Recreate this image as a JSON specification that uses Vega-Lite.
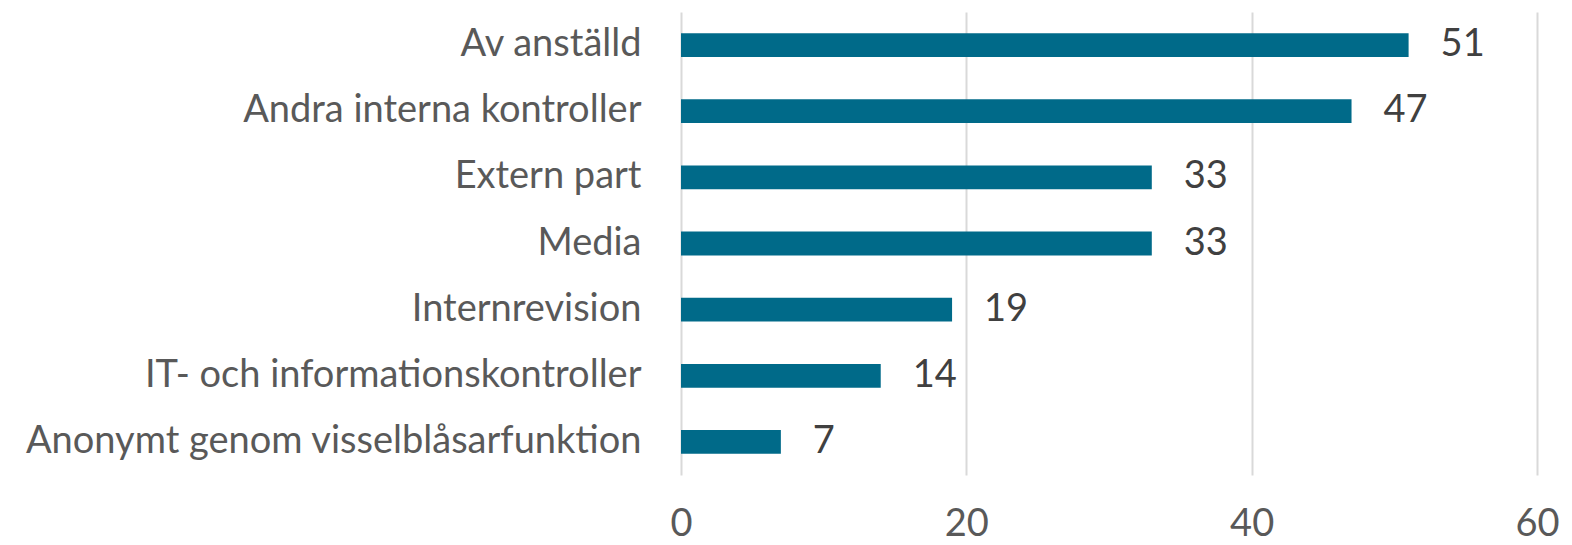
{
  "$schema": "https://vega.github.io/schema/vega-lite/v6.json",
  "autosize": {"type": "none"},
  "width": 856,
  "height": 463,
  "padding": {"left": 681, "top": 12, "right": 35, "bottom": 70},
  "background": "white",
  "data": {"values": [
    {"category": "Av anställd", "value": 51},
    {"category": "Andra interna kontroller", "value": 47},
    {"category": "Extern part", "value": 33},
    {"category": "Media", "value": 33},
    {"category": "Internrevision", "value": 19},
    {"category": "IT- och informationskontroller", "value": 14},
    {"category": "Anonymt genom visselblåsarfunktion", "value": 7}
  ]},
  "config": {
    "view": {"stroke": null},
    "font": "Lato"
  },
  "encoding": {
    "y": {
      "field": "category", "type": "nominal", "sort": null,
      "scale": {"paddingInner": 0.64, "paddingOuter": 0.32},
      "axis": {"title": null, "domain": false, "ticks": false, "labelFontSize": 38, "labelColor": "#595959", "labelPadding": 40, "labelLimit": 700, "labelFont": "Lato"}
    },
    "x": {
      "field": "value", "type": "quantitative",
      "scale": {"domain": [0, 60], "nice": false},
      "axis": {"title": null, "values": [0, 20, 40, 60], "domain": false, "ticks": false, "grid": true, "gridColor": "#d9d9d9", "gridWidth": 2, "labelFontSize": 38, "labelColor": "#595959", "labelPadding": 30, "labelFlush": false, "labelFont": "Lato"}
    }
  },
  "layer": [
    {"mark": {"type": "bar", "color": "#006A89"}},
    {"mark": {"type": "text", "align": "left", "baseline": "middle", "dx": 32, "fontSize": 38, "color": "#404040", "font": "Lato"},
     "encoding": {"text": {"field": "value", "type": "quantitative"}}}
  ]
}
